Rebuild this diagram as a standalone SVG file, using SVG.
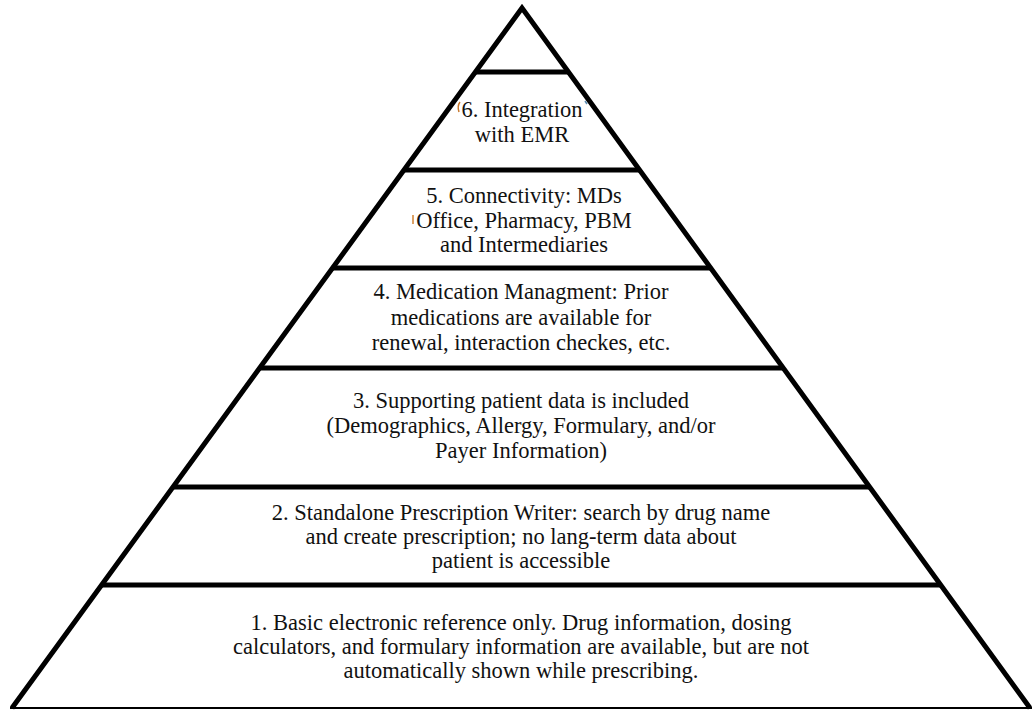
<svg xmlns="http://www.w3.org/2000/svg" width="1032" height="710" viewBox="0 0 1032 710">
<style>
.edge{stroke:#000;stroke-width:5;stroke-linecap:butt;fill:none}
.bar{stroke:#000;stroke-width:5;fill:none}
.base{stroke:#000;stroke-width:2;fill:none}
.t{font-family:"Liberation Serif","Times New Roman",serif;font-size:22.5px;fill:#111;text-anchor:middle}
.mark{fill:none;stroke-width:1.5}
</style>
<rect width="1032" height="710" fill="#fff"/>
<g id="pyramid-outline">
<line class="base" x1="10" y1="708" x2="1032" y2="708"/>
<polyline class="edge" points="12,708 522,8 1030,708"/>
<line class="bar" x1="475" y1="72" x2="569" y2="72"/>
<line class="bar" x1="404" y1="170" x2="640" y2="170"/>
<line class="bar" x1="333" y1="268" x2="711" y2="268"/>
<line class="bar" x1="260" y1="368" x2="783" y2="368"/>
<line class="bar" x1="173" y1="487" x2="870" y2="487"/>
<line class="bar" x1="102" y1="585" x2="941" y2="585"/>
</g>
<g id="tier-7-apex"></g>
<g id="tier-6">
<text class="t" x="522" y="117">6. Integration</text>
<text class="t" x="522" y="142">with EMR</text>
<path class="mark" stroke="#c8782c" d="M460,102 Q457,106 459,112"/>
<path class="mark" stroke="#5a8ab0" d="M585,101 L587,104"/>
</g>
<g id="tier-5">
<text class="t" x="524" y="203">5. Connectivity: MDs</text>
<text class="t" x="524" y="228">Office, Pharmacy, PBM</text>
<text class="t" x="524" y="252">and Intermediaries</text>
<line class="mark" stroke="#d08030" x1="413" y1="215" x2="413" y2="224"/>
</g>
<g id="tier-4">
<text class="t" x="521" y="299">4. Medication Managment: Prior</text>
<text class="t" x="521" y="325">medications are available for</text>
<text class="t" x="521" y="350">renewal, interaction checkes, etc.</text>
</g>
<g id="tier-3">
<text class="t" x="521" y="408">3. Supporting patient data is included</text>
<text class="t" x="521" y="433">(Demographics, Allergy, Formulary, and/or</text>
<text class="t" x="521" y="458">Payer Information)</text>
</g>
<g id="tier-2">
<text class="t" x="521" y="520">2. Standalone Prescription Writer: search by drug name</text>
<text class="t" x="521" y="544">and create prescription; no lang-term data about</text>
<text class="t" x="521" y="568">patient is accessible</text>
</g>
<g id="tier-1">
<text class="t" x="521" y="630">1. Basic electronic reference only. Drug information, dosing</text>
<text class="t" x="521" y="654">calculators, and formulary information are available, but are not</text>
<text class="t" x="521" y="678">automatically shown while prescribing.</text>
</g>
<g id="connectors"></g>
</svg>
